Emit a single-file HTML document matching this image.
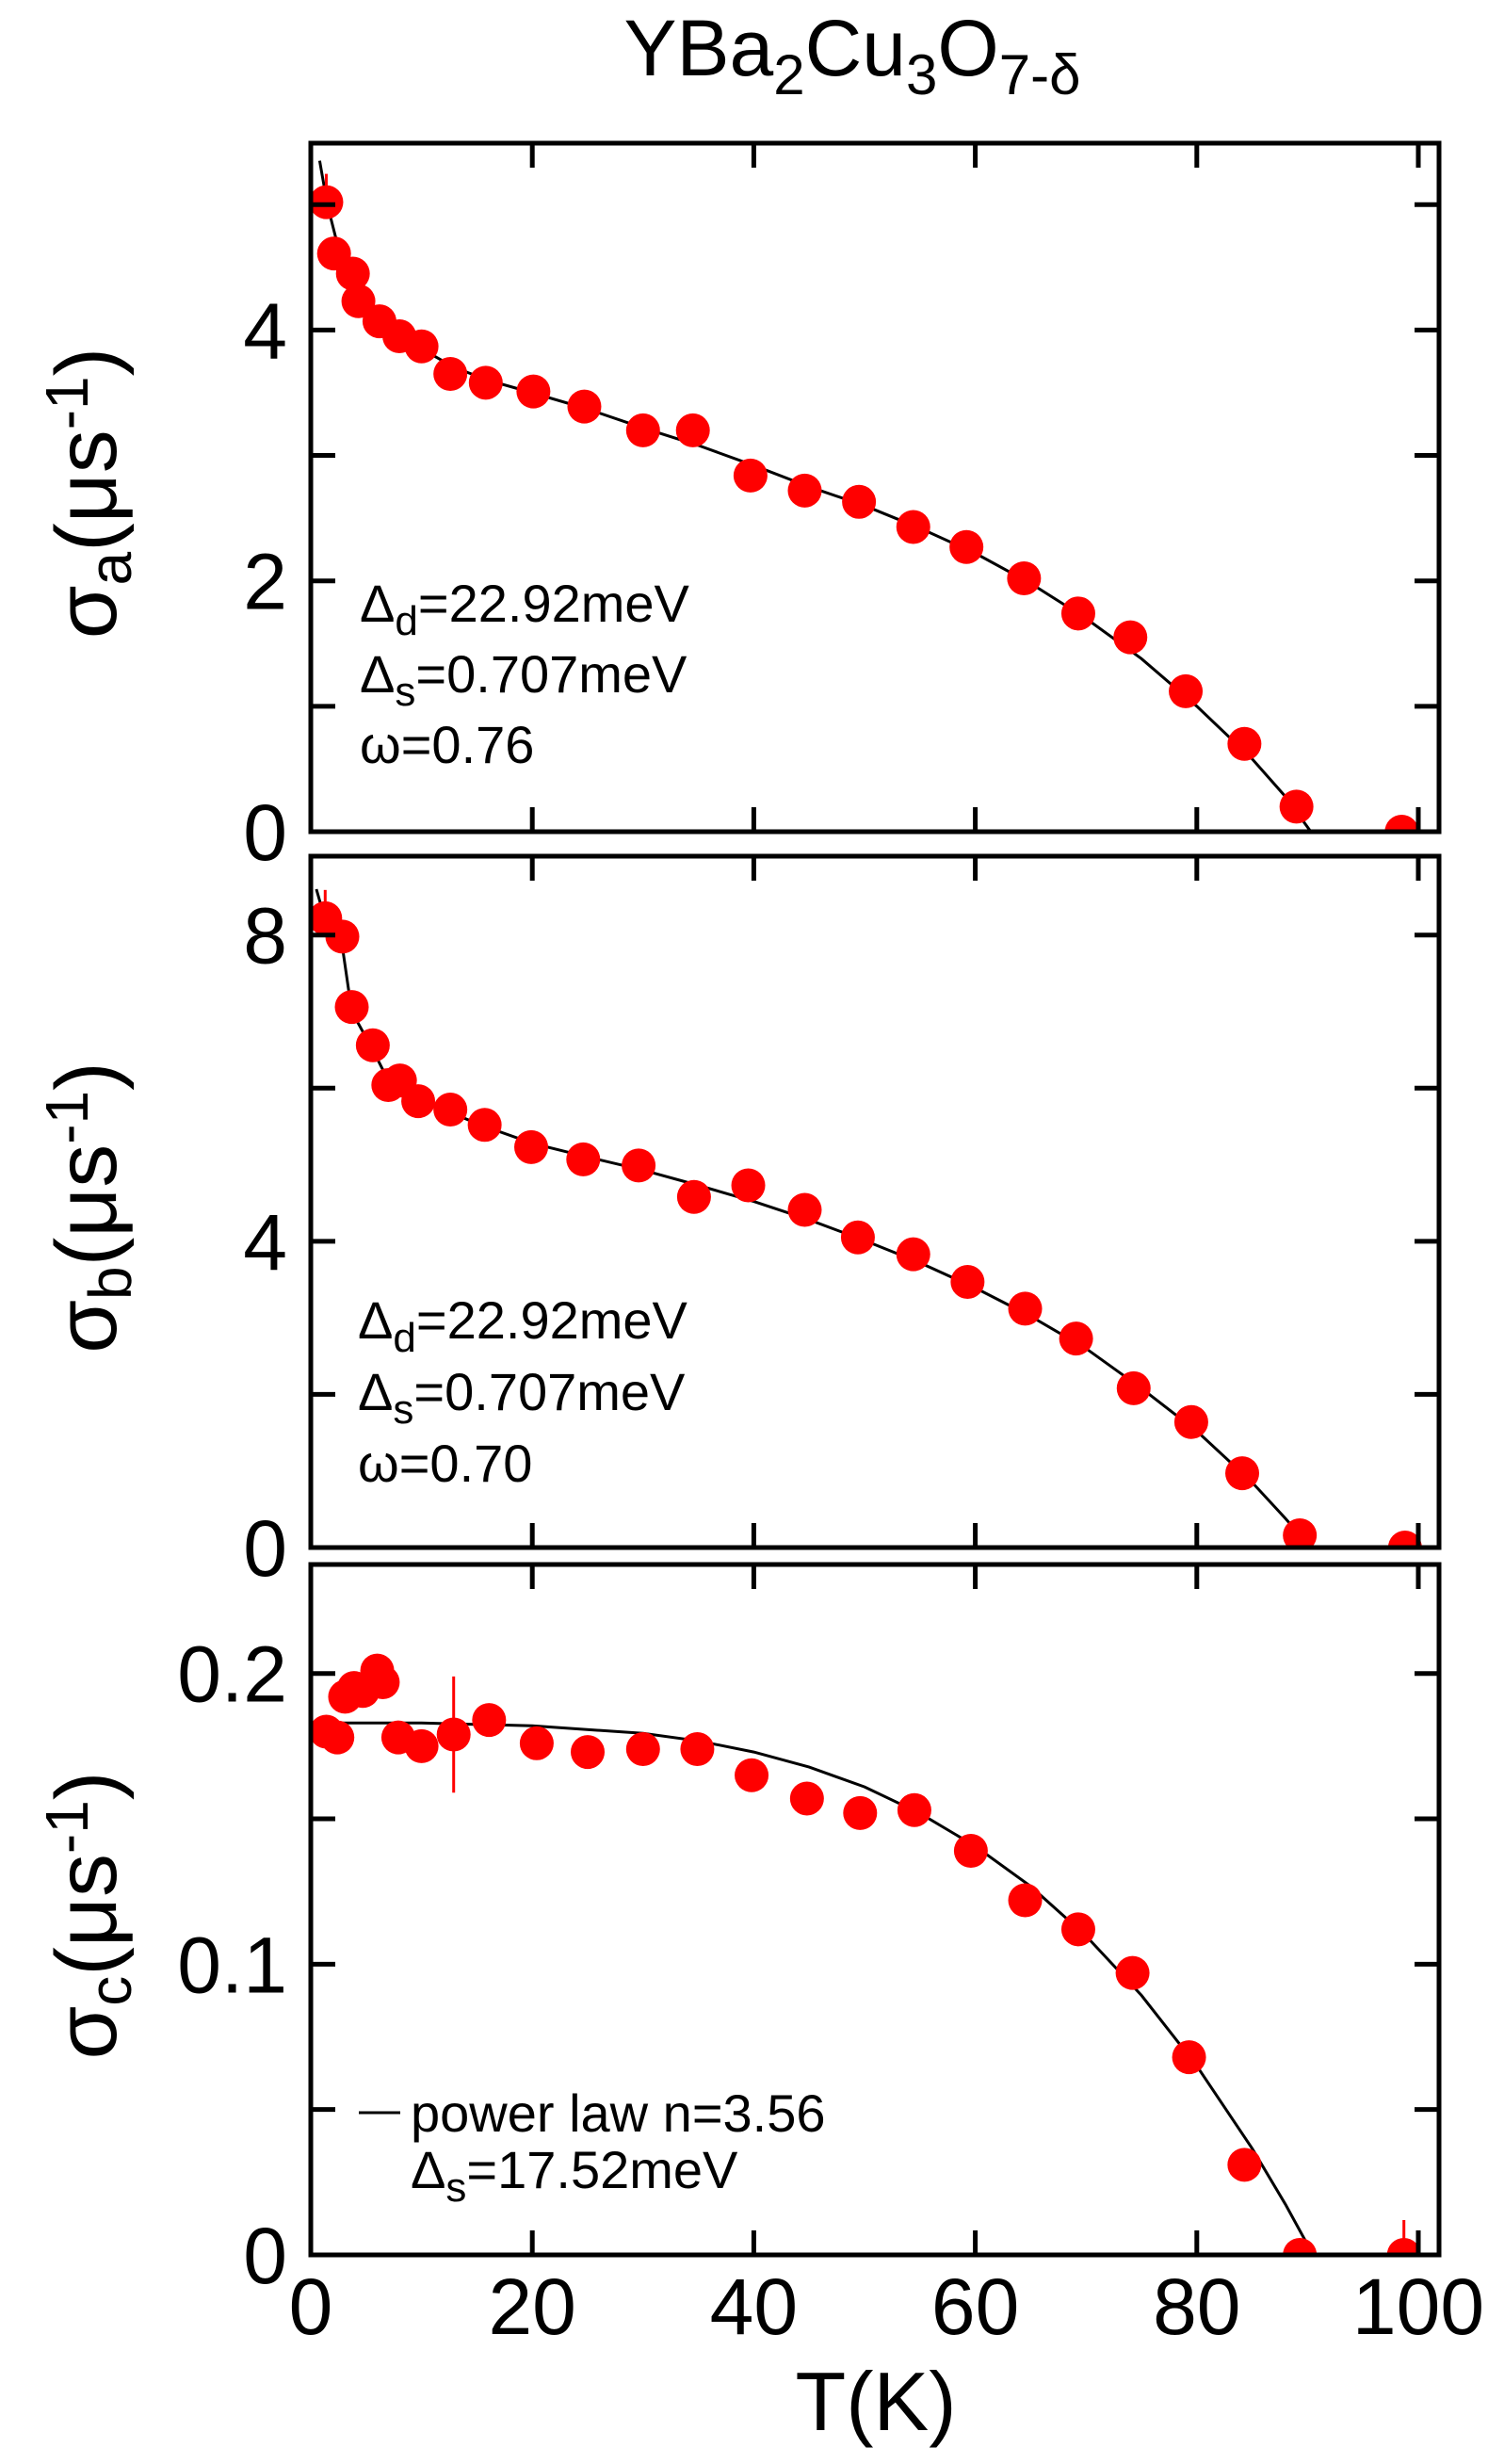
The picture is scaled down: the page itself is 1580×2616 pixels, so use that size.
<!DOCTYPE html>
<html><head><meta charset="utf-8">
<style>
html,body{margin:0;padding:0;background:#fff;}
svg{display:block;}
text{font-family:"Liberation Sans",sans-serif;fill:#000;}
</style></head>
<body>
<svg id="chart" width="1580" height="2616" viewBox="0 0 1580 2616" xmlns="http://www.w3.org/2000/svg">
<text x="905" y="80" font-size="84" text-anchor="middle">YBa<tspan font-size="60" dy="20">2</tspan><tspan dy="-20">Cu</tspan><tspan font-size="60" dy="20">3</tspan><tspan dy="-20">O</tspan><tspan font-size="60" dy="20">7-δ</tspan></text>
<g id="plots"></g>
<text x="930" y="2580" font-size="88" text-anchor="middle">T(K)</text>
</svg>
<script>
// ---- data ----
const tA = [1.4,2.1,3.8,4.3,6.2,8.0,10.0,12.6,15.8,20.1,24.7,30.0,34.5,39.7,44.6,49.5,54.4,59.2,64.4,69.3,74.0,79.0,84.3,89.0,98.5];
const sigA = [5.02,4.61,4.45,4.23,4.07,3.95,3.87,3.65,3.58,3.51,3.39,3.20,3.20,2.84,2.72,2.63,2.43,2.27,2.02,1.74,1.55,1.12,0.70,0.20,0.0];
const fitTA = [0.8,1.5,2.5,4,6,8,10,13,16,20,25,30,35,40,45,50,55,60,65,70,75,80,85,88,90.3];
const fitA = [5.35,5.0,4.65,4.3,4.08,3.95,3.85,3.7,3.6,3.5,3.37,3.22,3.08,2.92,2.75,2.6,2.42,2.22,1.98,1.7,1.38,1.0,0.58,0.28,0];

const tB = [1.3,2.85,3.7,5.6,7.0,8.05,9.7,12.6,15.7,19.9,24.6,29.6,34.6,39.5,44.6,49.4,54.4,59.3,64.5,69.1,74.3,79.5,84.1,89.3,98.8];
const sigB = [8.22,7.98,7.06,6.56,6.04,6.10,5.83,5.72,5.52,5.23,5.07,4.99,4.58,4.73,4.41,4.05,3.83,3.47,3.12,2.73,2.08,1.64,0.97,0.16,0.0];
const fitTB = [0.5,1.3,2.85,3.7,5.6,7,9.7,12.6,15.7,20,25,30,35,40,45,50,55,60,65,70,75,80,85,88,90.3];
const fitB = [8.6,8.2,7.85,7.0,6.5,6.1,5.85,5.68,5.5,5.28,5.1,4.93,4.73,4.52,4.28,4.01,3.72,3.39,3.02,2.6,2.08,1.52,0.85,0.38,0];

const tC = [1.4,2.4,3.1,3.9,4.7,6.0,6.5,7.9,10.0,12.9,16.1,20.4,25.0,30.0,34.9,39.8,44.8,49.6,54.5,59.6,64.5,69.3,74.2,79.3,84.3,89.3,98.7];
const sigC = [0.180,0.178,0.192,0.195,0.194,0.201,0.197,0.178,0.175,0.179,0.184,0.176,0.173,0.174,0.174,0.165,0.157,0.152,0.153,0.139,0.122,0.112,0.097,0.068,0.031,0.0,0.0];
const errC = [0,0,0,0,0,0,0,0,0,0.02,0,0,0,0,0,0,0,0,0,0,0,0,0,0,0,0,0.012];
const fitTC = [1.5,10,20,30,35,40,45,50,55,60,65,70,75,80,85,88,90.5];
const fitC = [0.183,0.183,0.182,0.1794,0.1768,0.173,0.1678,0.161,0.1519,0.1406,0.1268,0.1097,0.0893,0.065,0.0366,0.0174,0];

const xTicks = [0,20,40,60,80,100];
const xTickLabels = ["0","20","40","60","80","100"];

// ---- layout ----
const X0 = 330, X1 = 1528, XMAX = (X1 - X0) / 11.76;
const NS = "http://www.w3.org/2000/svg";
const root = document.getElementById('plots');
function el(tag, attrs, parent) {
  const e = document.createElementNS(NS, tag);
  for (const k in attrs) e.setAttribute(k, attrs[k]);
  (parent || root).appendChild(e);
  return e;
}
function xs(t) { return X0 + t / XMAX * (X1 - X0); }

const panels = [
  {id:'a', top:152, bot:883, ymax:5.49, major:[0,2,4], majorLabels:["0","2","4"], minor:[1,3,5], t:tA, s:sigA, e:null, ft:fitTA, f:fitA, sub:'a'},
  {id:'b', top:909, bot:1643, ymax:9.03, major:[0,4,8], majorLabels:["0","4","8"], minor:[2,6], t:tB, s:sigB, e:null, ft:fitTB, f:fitB, sub:'b'},
  {id:'c', top:1661, bot:2394, ymax:0.2375, major:[0,0.1,0.2], majorLabels:["0","0.1","0.2"], minor:[0.05,0.15], t:tC, s:sigC, e:errC, ft:fitTC, f:fitC, sub:'c'}
];

panels.forEach((p, pi) => {
  const ys = v => p.bot - v / p.ymax * (p.bot - p.top);
  const g = el('g', {});
  
  
  const clip = el('clipPath', {id:'clip' + p.id}, g);
  el('rect', {x:X0, y:p.top, width:X1 - X0, height:p.bot - p.top}, clip);

  // fit line
  let d = '';
  p.ft.forEach((t, i) => { d += (i ? 'L' : 'M') + xs(t).toFixed(1) + ',' + ys(p.f[i]).toFixed(1); });
  const fl = el('path', {d:d, fill:'none', stroke:'#000', 'stroke-width':3, 'clip-path':'url(#clip' + p.id + ')'}, g);
  
  

  // points
  const pts = el('g', {'clip-path':'url(#clip' + p.id + ')'}, g);
  p.t.forEach((t, i) => {
    const cx = xs(t), cy = ys(p.s[i]);
    if (i === 0 && !p.e) {
      const eb = el('line', {x1:cx, x2:cx, y1:cy - 30, y2:cy, stroke:'#f00', 'stroke-width':3}, pts);
      
      
    }
    if (p.e && p.e[i] > 0) {
      const eb = el('line', {x1:cx, x2:cx, y1:ys(p.s[i] + p.e[i]), y2:ys(Math.max(0, p.s[i] - p.e[i])), stroke:'#f00', 'stroke-width':3}, pts);
      
      
    }
    const c = el('circle', {cx:cx, cy:cy, r:18, fill:'#f00'}, pts);
    
    
  });

  // frame
  const fr = el('rect', {x:X0, y:p.top, width:X1 - X0, height:p.bot - p.top, fill:'none', stroke:'#000', 'stroke-width':5}, g);
  
  

  // x ticks
  xTicks.forEach(t => {
    const x = xs(t);
    if (t === 0) return;
    el('line', {x1:x, x2:x, y1:p.top, y2:p.top + 26, stroke:'#000', 'stroke-width':5}, g);
    el('line', {x1:x, x2:x, y1:p.bot, y2:p.bot - 26, stroke:'#000', 'stroke-width':5}, g);
  });
  // y ticks
  p.major.concat(p.minor).forEach(v => {
    if (v === 0) return;
    const y = ys(v);
    el('line', {x1:X0, x2:X0 + 26, y1:y, y2:y, stroke:'#000', 'stroke-width':5}, g);
    el('line', {x1:X1, x2:X1 - 26, y1:y, y2:y, stroke:'#000', 'stroke-width':5}, g);
  });
  p.major.forEach((v, i) => {
    const tl = el('text', {x:305, y:ys(v) + 30, 'font-size':84, 'text-anchor':'end'}, g);
    tl.textContent = p.majorLabels[i];
    
    
  });

  // y axis title
  const cy = (p.top + p.bot) / 2 + 6;
  const yt = el('text', {x:0, y:0, 'font-size':92, 'text-anchor':'middle', transform:'translate(123,' + cy + ') rotate(-90)'}, g);
  
  
  yt.innerHTML = 'σ<tspan font-size="64" dy="16">' + p.sub + '</tspan><tspan dy="-16">(μs</tspan><tspan font-size="64" dy="-30">-1</tspan><tspan dy="30">)</tspan>';
});

// x tick labels
xTicks.forEach((t, i) => {
  const tl = el('text', {x:xs(t), y:2478, 'font-size':84, 'text-anchor':'middle'});
  tl.textContent = xTickLabels[i];
  
  
});

// annotations
function annot(lines, x, y0, dy, name) {
  const g = el('g', {});
  
  
  lines.forEach((h, i) => {
    const t = el('text', {x:x, y:y0 + i * dy, 'font-size':56}, g);
    t.innerHTML = h;
  });
}
const gapLines = (w) => ['Δ<tspan font-size="44" dy="14">d</tspan><tspan dy="-14">=22.92meV</tspan>',
  'Δ<tspan font-size="44" dy="14">s</tspan><tspan dy="-14">=0.707meV</tspan>',
  'ω=' + w];
annot(gapLines('0.76'), 382, 660, 75, 'annotation-a');
annot(gapLines('0.70'), 380, 1421, 76, 'annotation-b');
annot(['power law n=3.56', 'Δ<tspan font-size="44" dy="14">s</tspan><tspan dy="-14">=17.52meV</tspan>'], 436, 2263, 60, 'annotation-c');
const dash = el('line', {x1:381, x2:425, y1:2243, y2:2243, stroke:'#000', 'stroke-width':3});


</script>
</body></html>
